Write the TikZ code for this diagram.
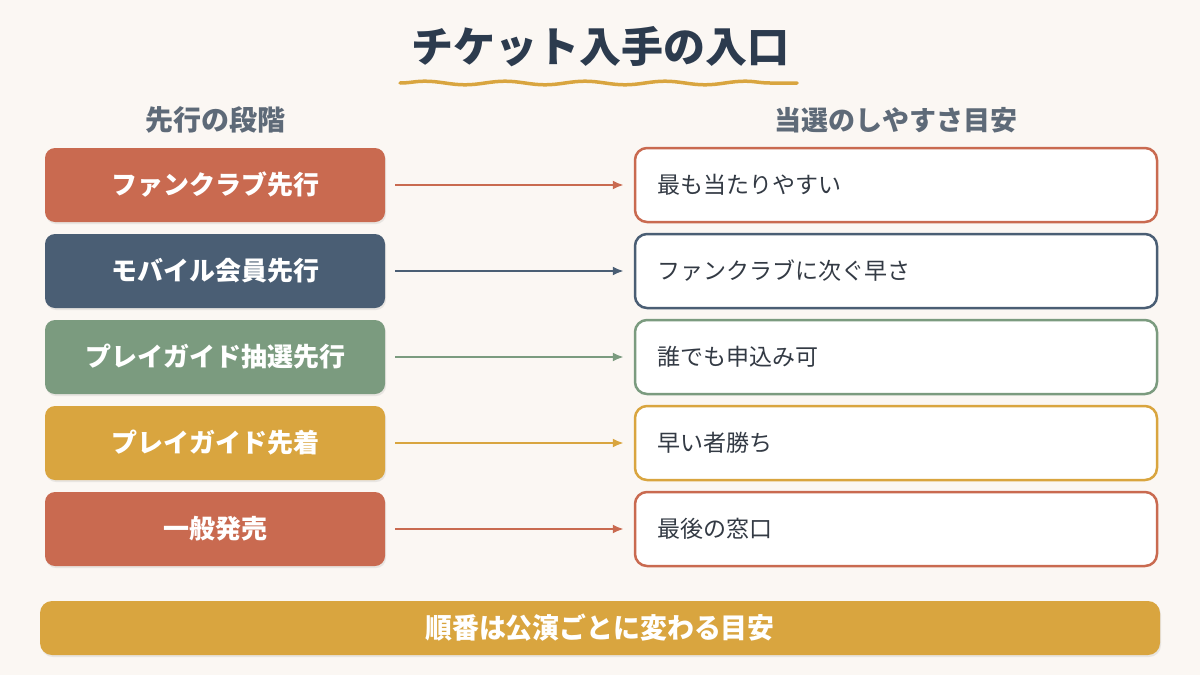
\documentclass[tikz,border=0pt]{standalone}
\usepackage{fontspec}
\newfontfamily\jpfont{Noto Sans CJK JP}
\usepackage{tikz}
\usetikzlibrary{arrows.meta}
\usetikzlibrary{shadows}
\usetikzlibrary{decorations.pathmorphing}

\definecolor{bgcream}{HTML}{FBF7F3}
\definecolor{terra}{HTML}{C96A50}
\definecolor{slate}{HTML}{4A5E74}
\definecolor{sage}{HTML}{7B9B7F}
\definecolor{mustard}{HTML}{D9A53F}
\definecolor{titleink}{HTML}{2C3B4E}
\definecolor{headink}{HTML}{5E6A78}
\definecolor{bodyink}{HTML}{333A44}

\tikzset{
  stage/.style={fill=#1, rounded corners=10pt, minimum width=340pt, minimum height=74pt,
    text=white, font=\jpfont\bfseries\fontsize{26}{30}\selectfont,
    drop shadow={opacity=0.15, shadow xshift=1pt, shadow yshift=-2pt}},
  chance/.style={draw=#1, line width=2.5pt, fill=white, rounded corners=12pt,
    minimum height=74pt, inner xsep=22pt, text width=478pt, align=left,
    text=bodyink, font=\jpfont\fontsize{23}{27}\selectfont},
  link/.style={draw=#1, line width=2pt, -{Latex[length=11pt,width=9pt]}},
  colhead/.style={text=headink, font=\jpfont\bfseries\fontsize{27}{31}\selectfont}
}

\begin{document}
\begin{tikzpicture}[x=1pt, y=-1pt]
  % Background
  \fill[bgcream] (0,0) rectangle (1200,675);
  \useasboundingbox (0,0) rectangle (1200,675);

  % Title
  \node[text=titleink, font=\jpfont\bfseries\fontsize{42}{48}\selectfont] (title) at (600,47) {チケット入手の入口};
  \draw[mustard, line width=3.5pt, line cap=round, decorate,
    decoration={snake, amplitude=1.8pt, segment length=80pt}] (400,83) -- (797,83);

  % Column heads
  \node[colhead, font=\jpfont\bfseries\fontsize{28}{32}\selectfont] (leftHead) at (215,120) {先行の段階};
  \node[colhead] (rightHead) at (896,120) {当選のしやすさ目安};

  % Stages
  \node[stage=terra] (fanclub) at (215,185) {ファンクラブ先行};
  \node[stage=slate] (mobile) at (215,271) {モバイル会員先行};
  \node[stage=sage] (pgLottery) at (215,357) {プレイガイド抽選先行};
  \node[stage=mustard] (pgFirst) at (215,443) {プレイガイド先着};
  \node[stage=terra] (general) at (215,529) {一般発売};

  % Chances
  \node[chance=terra] (easiest) at (896,185) {最も当たりやすい};
  \node[chance=slate] (second) at (896,271) {ファンクラブに次ぐ早さ};
  \node[chance=sage] (anyone) at (896,357) {誰でも申込み可};
  \node[chance=mustard] (fastest) at (896,443) {早い者勝ち};
  \node[chance=terra] (lastWindow) at (896,529) {最後の窓口};

  % Arrows
  \draw[link=terra] ([xshift=10pt]fanclub.east) -- ([xshift=-10pt]easiest.west);
  \draw[link=slate] ([xshift=10pt]mobile.east) -- ([xshift=-10pt]second.west);
  \draw[link=sage] ([xshift=10pt]pgLottery.east) -- ([xshift=-10pt]anyone.west);
  \draw[link=mustard] ([xshift=10pt]pgFirst.east) -- ([xshift=-10pt]fastest.west);
  \draw[link=terra] ([xshift=10pt]general.east) -- ([xshift=-10pt]lastWindow.west);

  % Footer
  \node[fill=mustard, rounded corners=12pt, minimum width=1120pt, minimum height=54pt,
    drop shadow={opacity=0.15, shadow xshift=1pt, shadow yshift=-2pt}] (footer) at (600,628) {};
  \node[text=white, font=\jpfont\bfseries\fontsize{28}{32}\selectfont, xscale=0.96] (footerText) at (footer.center) {順番は公演ごとに変わる目安};
\end{tikzpicture}
\end{document}
